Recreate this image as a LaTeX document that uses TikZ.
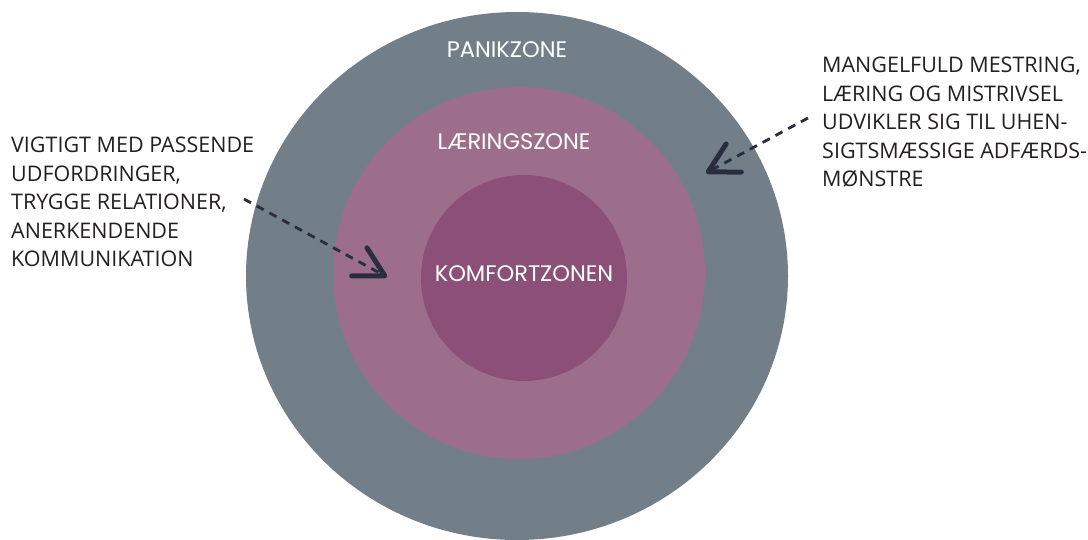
\documentclass[tikz,border=0pt]{standalone}
\usepackage{fontspec}
\setmainfont{Open Sans}
\newfontfamily\zonefont{Poppins}
\usetikzlibrary{arrows.meta}
\definecolor{panik}{HTML}{727F89}
\definecolor{laering}{HTML}{9C6E8C}
\definecolor{komfort}{HTML}{8C4F78}
\definecolor{pil}{HTML}{2A2C40}
\definecolor{tekst}{HTML}{231F20}
\tikzset{
  zone/.style={text=white,font=\zonefont\fontsize{22.5}{26}\selectfont,inner sep=0pt},
  info/.style={text=tekst,font=\fontsize{21.5}{28.5}\selectfont,align=left,inner sep=0pt,anchor=north west},
  pile/.style={pil,line width=2.8pt,dash pattern=on 8pt off 6.5pt,-{Straight Barb[round,length=29pt,width=32pt,line width=5pt]}}
}
\begin{document}
\begin{tikzpicture}[x=1pt,y=-1pt]
    \useasboundingbox (0,0) rectangle (1088,539);
    % zonerne
    \fill[panik] (517,276) ellipse[x radius=271,y radius=264];
    \fill[laering] (519,273) circle[radius=186];
    \fill[komfort] (524,278) circle[radius=103];
    \node[zone] (panikzone) at (507,50) {PANIKZONE};
    \node[zone] (laeringszone) at (514,142) {LÆRINGSZONE};
    \node[zone] (komfortzone) at (524,274) {KOMFORTZONEN};
    % tekster
    \node[info] (venstre) at (11,137) {VIGTIGT MED PASSENDE\\UDFORDRINGER,\\TRYGGE RELATIONER,\\ANERKENDENDE\\KOMMUNIKATION};
    \node[info] (hoejre) at (822,57) {MANGELFULD MESTRING,\\LÆRING OG MISTRIVSEL\\UDVIKLER SIG TIL UHEN-\\SIGTSMÆSSIGE ADFÆRDS-\\MØNSTRE};
    % pile
    \coordinate (vstart) at (244,199);
    \coordinate (vspids) at (387,277);
    \coordinate (hstart) at (808,118);
    \coordinate (hspids) at (706,173);
    \draw[pile] (vstart) -- (vspids);
    \draw[pile] (hstart) -- (hspids);
\end{tikzpicture}
\end{document}
